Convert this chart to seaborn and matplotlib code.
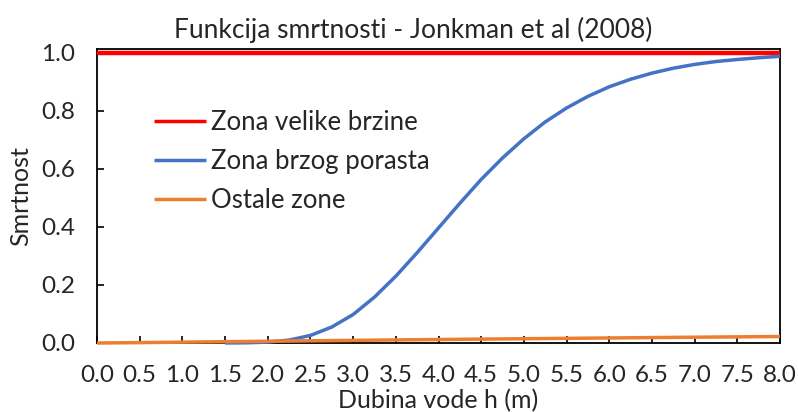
import numpy as np
import pandas as pd
import matplotlib
matplotlib.use('Agg')
import matplotlib.pyplot as plt
import seaborn as sns

# values
red_x = [0.0, 8.0]
red_y = [1.0, 1.0]

blue_x = [1.5, 1.75, 2.0, 2.25, 2.5, 2.75, 3.0, 3.25, 3.5, 3.75, 4.0, 4.25, 4.5, 4.75,
          5.0, 5.25, 5.5, 5.75, 6.0, 6.25, 6.5, 6.75, 7.0, 7.25, 7.5, 7.75, 8.0]
blue_y = [0.0001, 0.0007, 0.003, 0.010, 0.026, 0.055, 0.098, 0.158, 0.230, 0.311, 0.396,
          0.481, 0.563, 0.637, 0.703, 0.761, 0.809, 0.849, 0.882, 0.908, 0.929, 0.946,
          0.959, 0.969, 0.976, 0.982, 0.987]

orange_x = [0.0, 0.1, 0.5, 1.0, 2.0, 3.0, 4.0, 5.0, 6.0, 7.0, 8.0]
orange_y = [0.0, 0.0002, 0.0013, 0.0029, 0.006, 0.009, 0.012, 0.0147, 0.0173, 0.0199, 0.0223]

labels = ['Zona velike brzine', 'Zona brzog porasta', 'Ostale zone']
colors = ['#FF0000', '#4472C4', '#ED7D31']

df = pd.concat([
  pd.DataFrame({'h': red_x, 'F': red_y, 'zona': labels[0]}),
  pd.DataFrame({'h': blue_x, 'F': blue_y, 'zona': labels[1]}),
  pd.DataFrame({'h': orange_x, 'F': orange_y, 'zona': labels[2]}),
])

sns.set_style('white')
plt.rcParams['font.family'] = ['Lato', 'DejaVu Sans']

fig, ax = plt.subplots(figsize=(7.98, 4.12), dpi=100)
fig.subplots_adjust(left=0.1216, right=0.9774, top=0.881, bottom=0.1675)

sns.lineplot(data=df, x='h', y='F', hue='zona', palette=colors, linewidth=2.5,
             sort=False, estimator=None, ax=ax)
for line in ax.lines:
  line.set_clip_on(False)
  line.set_solid_capstyle('butt')
  line.set_zorder(3)
ax.lines[0].set_linewidth(3.2)

ax.set_xlim(0, 8)
ax.set_ylim(0, 1.012)
ax.set_xticks(np.arange(0, 8.01, 0.5))
ax.set_yticks(np.arange(0, 1.01, 0.2))
ax.set_xticklabels([f'{v:.1f}' for v in np.arange(0, 8.01, 0.5)])
ax.set_yticklabels([f'{v:.1f}' for v in np.arange(0, 1.01, 0.2)])
ax.tick_params(axis='both', direction='in', length=5, width=1.2, color='black',
               labelsize=17.5, pad=16, left=True, bottom=True)
for s in ax.spines.values():
  s.set_color('black')
  s.set_linewidth(1.3)

ax.set_title('Funkcija smrtnosti - Jonkman et al (2008)', fontsize=19, pad=8, x=0.463)
ax.set_xlabel('Dubina vode h (m)', fontsize=18, labelpad=2)
ax.set_ylabel('Smrtnost', fontsize=18, labelpad=6)

leg = ax.legend(loc='upper left', bbox_to_anchor=(0.05, 0.872), frameon=False, fontsize=18.5,
                handlelength=2.0, handletextpad=0.2, labelspacing=0.55)
for h in leg.get_lines():
  h.set_linewidth(2.5)

fig.savefig('out.png', dpi=100)
